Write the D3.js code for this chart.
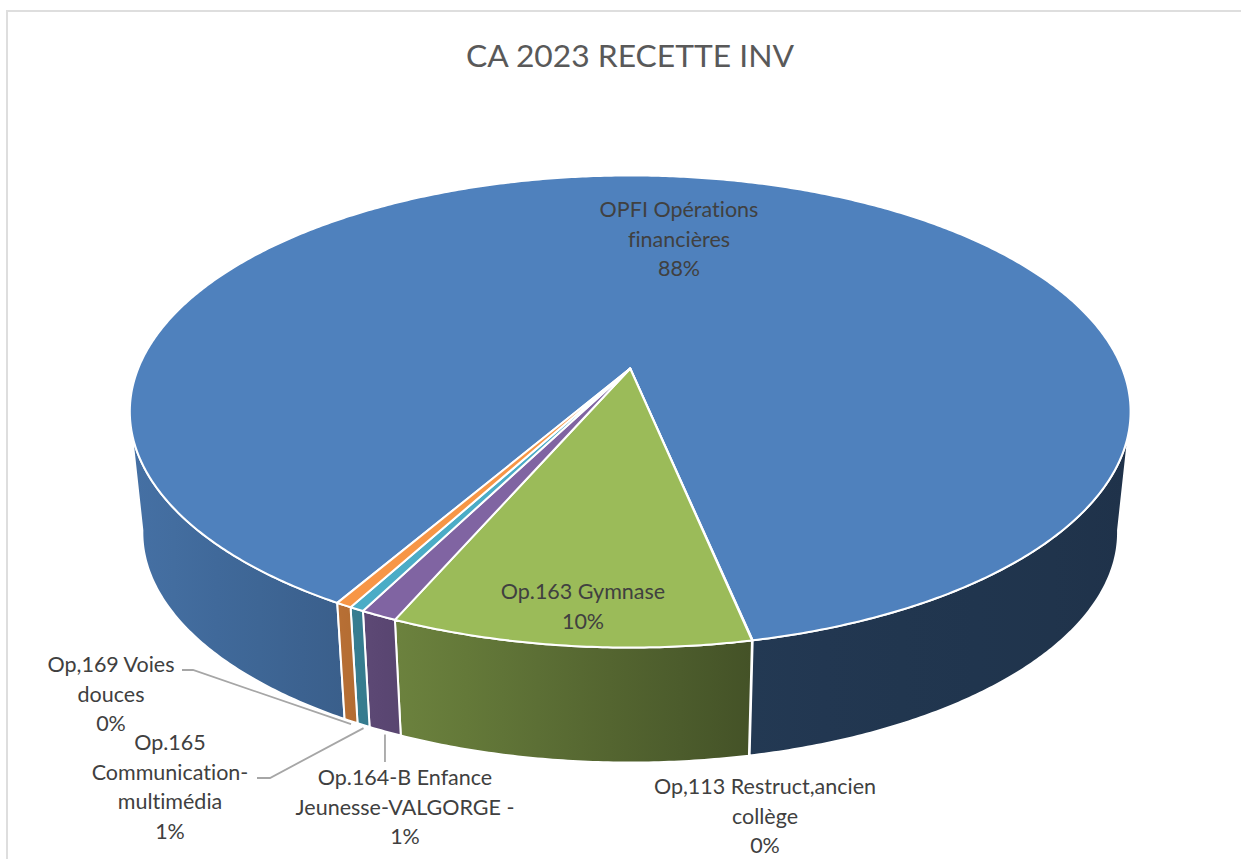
<!DOCTYPE html>
<html>
<head>
<meta charset="utf-8">
<script src="https://cdn.jsdelivr.net/npm/d3@7"></script>
<style>
  html, body { margin: 0; padding: 0; background: #fff; overflow: hidden; }
  text { font-family: Lato, "Open Sans", sans-serif; fill: #404040; text-anchor: middle; font-variant-ligatures: none; }
</style>
</head>
<body>
<script>
// donnees (en % du total)
const categories = ["OPFI Opérations financières", "Op,113 Restruct,ancien collège", "Op.163 Gymnase",
  "Op.164-B Enfance Jeunesse-VALGORGE -", "Op.165 Communication-multimédia", "Op,169 Voies douces"];
const values = [88.36, 0.02, 9.78, 1.0, 0.4, 0.44];
const percentLabels = ["88%", "0%", "10%", "1%", "1%", "0%"];
const colors = ["#4f81bd", "#4f81bd", "#9bbb59", "#8064a2", "#4bacc6", "#f79646"];

// lignes de texte de chaque etiquette
const labelLines = [
  ["OPFI Opérations", "financières"],
  ["Op,113 Restruct,ancien", "collège"],
  ["Op.163 Gymnase"],
  ["Op.164-B Enfance", "Jeunesse-VALGORGE -"],
  ["Op.165", "Communication-", "multimédia"],
  ["Op,169 Voies", "douces"]
];
const labelX = [679, 765, 583, 405, 170, 111];
const labelY = [217, 794, 599, 785, 750, 672];

const width = 1241, height = 859;

var svg = d3.select("body").append("svg")
  .attr("width", width)
  .attr("height", height)
  .style("display", "block");

// cadre
svg.append("rect").attr("x", 7).attr("y", 11).attr("width", 1300).attr("height", 1000)
  .attr("fill", "none").attr("stroke", "#dedede").attr("stroke-width", 2);

svg.append("text").text("CA 2023 RECETTE INV")
  .attr("x", 630).attr("y", 67)
  .style("font-size", "31.8px").style("fill", "#595959");

// projection en perspective du camembert
const cx = 630.2, apexY = 368.5, depth = 122, shrink = 0.975;
const k = 0.1822, a = 492, b = 228.2;
const deg = Math.PI / 180;

function project(t, z) {
  const s = z ? shrink : 1;
  const d = 1 + k * Math.cos(t);
  return [cx + s * a * Math.sin(t) / d, apexY + (z ? depth : 0) - s * b * Math.cos(t) / d];
}

const line = d3.line();
const arcPts = (t0, t1, z) => {
  const n = Math.max(2, Math.ceil(Math.abs(t1 - t0) / (0.5 * deg)));
  return d3.range(n + 1).map(i => project(t0 + (t1 - t0) * i / n, z));
};

const pie = d3.pie().sort(null).startAngle(210.1 * deg).endAngle((210.1 + 360) * deg);
const arcs = pie(values);

// parois visibles (devant seulement)
const visA = 105 * deg, visB = 255 * deg, over = 5 * deg;
const shade = d3.scaleLinear().domain([130, 340, 404, 750, 1130]).range([0.87, 0.74, 0.69, 0.44, 0.39]);
const defs = svg.append("defs");
const walls = [];
arcs.forEach((d, i) => {
  [0, 360 * deg].forEach(turn => {
    const t0 = Math.max(d.startAngle, visA + turn), t1 = Math.min(d.endAngle, visB + turn);
    if (t1 - t0 > 0.002) walls.push({ i, t0, t1, atA: t0 === visA + turn, atB: t1 === visB + turn });
  });
});

walls.forEach((w, j) => {
  const top = arcPts(w.t0, w.t1, 0);
  const bot = arcPts(w.t1 + (w.atB ? over : 0), w.t0 - (w.atA ? over : 0), 1);
  const xs = top.concat(bot).map(p => p[0]);
  const x0 = d3.min(xs), x1 = d3.max(xs);
  const grad = defs.append("linearGradient").attr("id", "w" + j)
    .attr("gradientUnits", "userSpaceOnUse")
    .attr("x1", x0).attr("x2", x1).attr("y1", 0).attr("y2", 0);
  d3.range(6).forEach(q => {
    const x = x0 + (x1 - x0) * q / 5;
    const c = d3.rgb(colors[w.i]);
    const f = shade(x);
    grad.append("stop").attr("offset", q / 5)
      .attr("stop-color", d3.rgb(c.r * f, c.g * f, c.b * f).formatHex());
  });
  svg.append("path")
    .attr("d", line(top.concat(bot)) + "Z")
    .attr("fill", "url(#w" + j + ")")
    .attr("stroke", "#fff").attr("stroke-width", 2).attr("stroke-linejoin", "round");
});

// dessus
arcs.forEach((d, i) => {
  const pts = [[cx, apexY]].concat(arcPts(d.startAngle, d.endAngle, 0));
  svg.append("path")
    .attr("d", line(pts) + "Z")
    .attr("fill", colors[i])
    .attr("stroke", "#fff").attr("stroke-width", 2).attr("stroke-linejoin", "round");
});

// traits de rappel
const leader = [
  { i: 5, pts: p => [[182, 670], [193, 670], [p[0], p[1] + 3]] },
  { i: 4, pts: p => [[257, 778], [270, 778], [p[0], p[1] + 3]] },
  { i: 3, pts: p => [[p[0], 762], [p[0], p[1] + 3]] }
];
leader.forEach(l => {
  const mid = (arcs[l.i].startAngle + arcs[l.i].endAngle) / 2;
  svg.append("path")
    .attr("d", line(l.pts(project(mid, 1))))
    .attr("fill", "none").attr("stroke", "#a6a6a6").attr("stroke-width", 1.8);
});

// etiquettes
labelLines.forEach((lines, i) => {
  const t = svg.append("text")
    .attr("x", labelX[i]).attr("y", labelY[i])
    .style("font-size", "21.5px");
  lines.concat([percentLabels[i]]).forEach((s, j) => {
    t.append("tspan").attr("x", labelX[i]).attr("dy", j ? 29.5 : 0).text(s);
  });
});
</script>
</body>
</html>
